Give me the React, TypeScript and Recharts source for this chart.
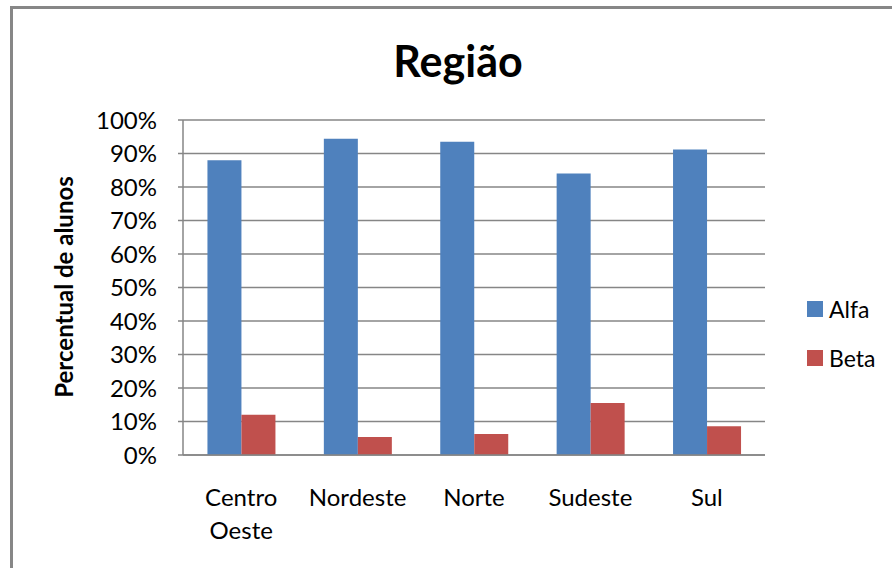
import React from 'react';
import { BarChart, Bar, XAxis, YAxis, CartesianGrid, Legend } from 'recharts';

const regions = ['Centro Oeste', 'Nordeste', 'Norte', 'Sudeste', 'Sul'];
const alfa = [88, 94.4, 93.5, 84, 91.2];
const beta = [12, 5.4, 6.3, 15.5, 8.6];
const yTicks = [0, 10, 20, 30, 40, 50, 60, 70, 80, 90, 100];

const data = regions.map((region, i) => ({ region, Alfa: alfa[i], Beta: beta[i] }));

const FONT = 'Lato, "DejaVu Sans", sans-serif';
const GRID = '#868686';

// category names with two words go on two lines, like the original
const RegionTick = (props: any) => {
  const { x, y, payload } = props;
  const lines = String(payload.value).split(' ');
  return (
    <text x={x} y={y} textAnchor="middle" fontSize={24} fontFamily={FONT} fill="#000">
      {lines.map((l, i) => (
        <tspan key={i} x={x} dy={i === 0 ? 17 : 33}>
          {l}
        </tspan>
      ))}
    </text>
  );
};

const LegendBox = () => (
  <div style={{ fontFamily: FONT, fontSize: 23, color: '#000' }}>
    {[
      { name: 'Alfa', color: '#4F81BD' },
      { name: 'Beta', color: '#C0504D' },
    ].map((s) => (
      <div key={s.name} style={{ display: 'flex', alignItems: 'center', height: 49 }}>
        <span style={{ width: 16, height: 16, background: s.color, marginRight: 6 }} />
        <span>{s.name}</span>
      </div>
    ))}
  </div>
);

const YLabel = (props: any) => {
  const { viewBox } = props;
  const cx = viewBox.x - 40;
  const cy = 287;
  return (
    <text
      x={cx}
      y={cy}
      transform={`rotate(-90, ${cx}, ${cy})`}
      textAnchor="middle"
      dominantBaseline="central"
      fontFamily={FONT}
      fontWeight="bold"
      fontSize={24}
      fill="#000"
    >
      Percentual de alunos
    </text>
  );
};

export default function App() {
  return (
    <div
      style={{
        position: 'absolute',
        left: 0,
        top: 0,
        width: 892,
        height: 568,
        overflow: 'hidden',
        background: '#fff',
      }}
    >
      <div
        style={{
          position: 'absolute',
          left: 0,
          width: 916,
          top: 36,
          textAlign: 'center',
          fontFamily: FONT,
          fontWeight: 'bold',
          fontSize: 43,
          lineHeight: '50px',
          color: '#000',
        }}
      >
        Região
      </div>
      <div style={{ position: 'absolute', left: -2, top: 0 }}>
        <BarChart
          width={892}
          height={568}
          data={data}
          margin={{ top: 120, right: 125, bottom: 0, left: 105 }}
          barCategoryGap="21%"
          barGap={0}
        >
          <CartesianGrid vertical={false} stroke={GRID} strokeWidth={1.5} />
          <XAxis
            dataKey="region"
            height={113}
            axisLine={{ stroke: GRID, strokeWidth: 1.5 }}
            tickLine={false}
            tickSize={0}
            tickMargin={34}
            tick={<RegionTick />}
            interval={0}
          />
          <YAxis
            width={80}
            domain={[0, 100]}
            ticks={yTicks}
            tickFormatter={(v: number) => `${v}%`}
            axisLine={{ stroke: GRID, strokeWidth: 1.5 }}
            tickLine={{ stroke: GRID, strokeWidth: 1.5 }}
            tickSize={5}
            tickMargin={21}
            tick={{ fontFamily: FONT, fontSize: 24, fill: '#000' }}
            label={<YLabel />}
          />
          <Legend
            layout="vertical"
            align="center"
            verticalAlign="middle"
            content={<LegendBox />}
            wrapperStyle={{ left: 809, top: 284, width: 80 }}
          />
          <Bar dataKey="Alfa" fill="#4F81BD" isAnimationActive={false} />
          <Bar dataKey="Beta" fill="#C0504D" isAnimationActive={false} />
        </BarChart>
      </div>
      <div
        style={{
          position: 'absolute',
          left: 10,
          top: 6,
          width: 920,
          height: 600,
          borderLeft: '3px solid #878787',
          borderTop: '3px solid #878787',
          pointerEvents: 'none',
          zIndex: 5,
        }}
      />
    </div>
  );
}
